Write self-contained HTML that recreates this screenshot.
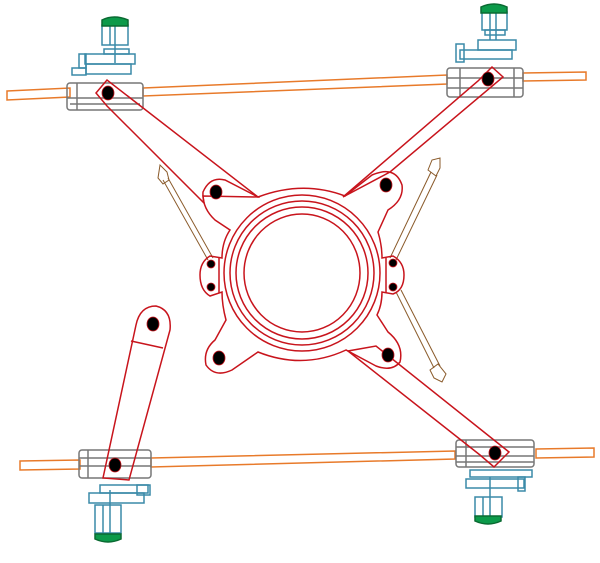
<!DOCTYPE html>
<html><head><style>html,body{margin:0;padding:0;background:#fff;width:600px;height:563px;overflow:hidden}</style></head>
<body>
<svg width="600" height="563" viewBox="0 0 600 563" xmlns="http://www.w3.org/2000/svg" fill="none" stroke-width="1.5">
<!-- rods -->
<g stroke="#e87a2a">
<polygon points="7,91 70,88 70,97 7,100"/>
<polygon points="143,88 447,75 447,84 143,96"/>
<polygon points="523,73 586,72 586,80 523,81"/>
<polygon points="20,461 80,460 80,469 20,470"/>
<polygon points="151,458 455,451 455,459 151,467"/>
<polygon points="536,449 594,448 594,457 536,458"/>
</g>
<!-- clamp blocks -->
<g stroke="#777">
<rect x="67" y="83" width="76" height="27" rx="3"/><line x1="77" y1="83" x2="77" y2="110"/><line x1="67" y1="98" x2="143" y2="98"/><line x1="70" y1="104" x2="140" y2="104"/>
<rect x="447" y="68" width="76" height="29" rx="3"/><line x1="460" y1="68" x2="460" y2="97"/><line x1="447" y1="78" x2="523" y2="78"/><line x1="447" y1="88" x2="523" y2="88"/><line x1="514" y1="68" x2="514" y2="97"/>
<rect x="79" y="450" width="72" height="28" rx="3"/><line x1="88" y1="450" x2="88" y2="478"/><line x1="79" y1="458" x2="151" y2="458"/><line x1="79" y1="466" x2="151" y2="466"/>
<rect x="456" y="440" width="78" height="27" rx="3"/><line x1="466" y1="440" x2="466" y2="467"/><line x1="456" y1="447" x2="534" y2="447"/><line x1="456" y1="456" x2="534" y2="456"/><line x1="456" y1="462" x2="534" y2="462"/>
</g>
<!-- motors -->
<g stroke="#3a8aa8">
<rect x="102" y="25" width="26" height="20"/><line x1="110" y1="25" x2="110" y2="45"/><line x1="115" y1="25" x2="115" y2="63"/>
<rect x="104" y="49" width="25" height="5"/><rect x="85" y="54" width="50" height="10"/><rect x="86" y="64" width="45" height="10"/><rect x="72" y="68" width="14" height="7"/><rect x="79" y="54" width="7" height="14"/>
<rect x="482" y="12" width="25" height="18"/><line x1="490" y1="12" x2="490" y2="40"/><line x1="496" y1="12" x2="496" y2="40"/>
<rect x="485" y="30" width="20" height="5"/><rect x="478" y="40" width="38" height="10"/><rect x="460" y="50" width="52" height="9"/><rect x="456" y="44" width="8" height="18"/>
<rect x="95" y="505" width="26" height="28"/><line x1="103" y1="505" x2="103" y2="533"/><line x1="110" y1="490" x2="110" y2="533"/>
<rect x="89" y="493" width="55" height="10"/><rect x="100" y="485" width="48" height="8"/><rect x="137" y="485" width="13" height="10"/>
<rect x="475" y="497" width="27" height="20"/><line x1="483" y1="497" x2="483" y2="517"/><line x1="490" y1="477" x2="490" y2="517"/>
<rect x="470" y="470" width="62" height="7"/><rect x="466" y="479" width="58" height="9"/><rect x="518" y="477" width="7" height="14"/>
</g>
<g fill="#0c9a4a" stroke="#0a6a32">
<path d="M102,26 L102,20 Q114,14 128,20 L128,26 Z"/>
<path d="M481,13 L481,7 Q494,1 507,7 L507,13 Z"/>
<path d="M95,534 L121,534 L121,539 Q108,545 95,539 Z"/>
<path d="M475,516 L501,516 L501,521 Q488,527 475,521 Z"/>
</g>
<!-- struts -->
<g stroke="#8a5a2a" stroke-width="1">
<line x1="163" y1="180" x2="208" y2="260"/><line x1="168" y1="178" x2="213" y2="258"/>
<path d="M158,178 L160,165 L167,172 L169,180 L163,184 Z"/>
<line x1="431" y1="172" x2="390" y2="258"/><line x1="437" y1="175" x2="396" y2="260"/>
<path d="M428,170 L432,160 L440,158 L440,168 L436,176 Z"/>
<line x1="396" y1="292" x2="434" y2="368"/><line x1="401" y1="290" x2="440" y2="366"/>
<path d="M430,370 L438,364 L446,374 L442,382 L434,378 Z"/>
</g>
<!-- red body -->
<g stroke="#c8141c">
<polygon points="96,93 107,80 258,197 203,196 204,203 107,106"/>
<polygon points="478,81 492,67 503,77 390,172 343,197"/>
<polygon points="348,351 480,455 494,467 509,452 376,346"/>
<path d="M258,197 Q303,180 345,196 L372,175 Q395,165 402,185 Q404,200 388,210 L378,232 Q382,245 382,258 L393,256 Q404,262 404,275 Q404,290 393,294 L382,292 Q382,305 377,315 L388,332 Q404,345 400,362 Q392,372 376,366 L346,350 Q303,370 258,352 L232,370 Q215,378 206,365 Q203,350 215,340 L226,320 Q222,305 222,292 L210,296 Q200,290 200,275 Q200,262 210,256 L222,258 Q222,242 230,230 L215,220 Q202,208 203,192 Q210,176 225,180 Z"/>
<ellipse cx="302" cy="273" rx="58" ry="59"/>
<circle cx="302" cy="273" r="66"/>
<circle cx="302" cy="273" r="72"/>
<circle cx="302" cy="273" r="78"/>
<line x1="219" y1="258" x2="219" y2="293"/><line x1="386" y1="258" x2="386" y2="293"/>
<path d="M136,325 Q140,306 156,306 Q172,310 170,330 L129,480 L103,478 Z"/>
<line x1="131" y1="341" x2="163" y2="348"/>
</g>
<g fill="#000" stroke="#c8141c" stroke-width="0.8">
<ellipse cx="108" cy="93" rx="6" ry="7"/><ellipse cx="488" cy="79" rx="6" ry="7"/>
<ellipse cx="115" cy="465" rx="6" ry="7"/><ellipse cx="495" cy="453" rx="6" ry="7"/>
<ellipse cx="153" cy="324" rx="6" ry="7"/>
<ellipse cx="216" cy="192" rx="6" ry="7"/><ellipse cx="386" cy="185" rx="6" ry="7"/>
<ellipse cx="219" cy="358" rx="6" ry="7"/><ellipse cx="388" cy="355" rx="6" ry="7"/>
<circle cx="211" cy="264" r="4"/><circle cx="211" cy="287" r="4"/>
<circle cx="393" cy="263" r="4"/><circle cx="393" cy="287" r="4"/>
</g>
</svg>
</body></html>
